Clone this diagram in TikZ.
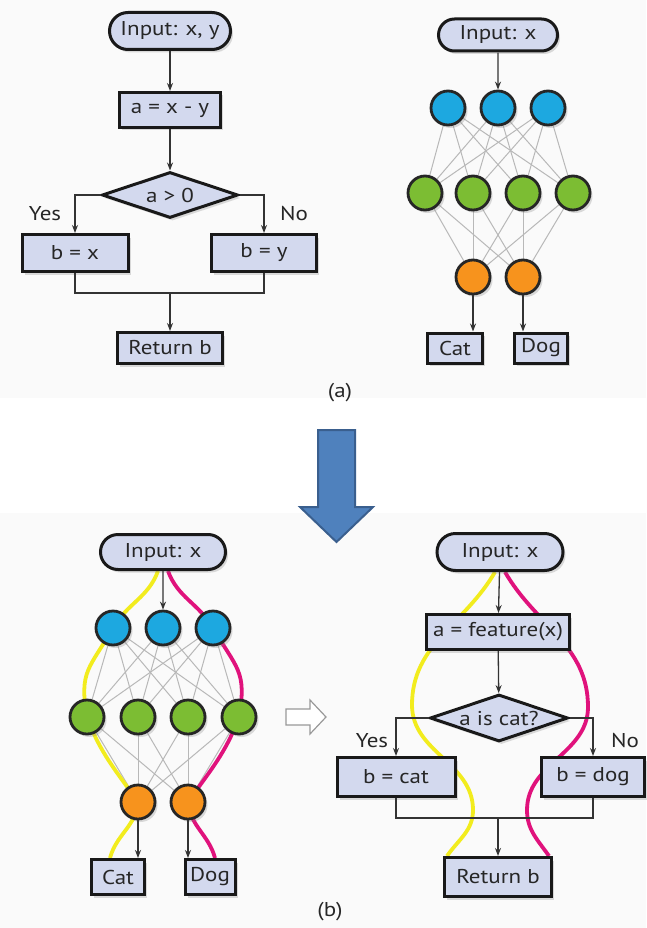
\documentclass[tikz,border=0pt]{standalone}
\usepackage{fontspec}
\setmainfont{PT Sans}[FakeStretch=1.15]
\usetikzlibrary{arrows.meta,positioning,shapes.geometric,shapes.misc,shadows,backgrounds}
\definecolor{bxfill}{HTML}{D3D9EE}
\definecolor{nnblue}{HTML}{1DA8E0}
\definecolor{nngreen}{HTML}{7CBD33}
\definecolor{nnorange}{HTML}{F7931D}
\definecolor{pathyel}{HTML}{F2EC1E}
\definecolor{pathmag}{HTML}{E0127C}
\definecolor{bigarr}{HTML}{4F81BD}
\definecolor{bigarrline}{HTML}{3A5F8E}

\begin{document}
\begin{tikzpicture}[x=1pt,y=-1pt,
  font=\fontsize{20}{22}\selectfont,text=black!85,
  shd/.style={drop shadow={shadow xshift=2.5pt,shadow yshift=-3pt,opacity=.28}},
  box/.style={draw=black!90,line width=3pt,fill=bxfill,inner sep=2pt,minimum height=35pt,shd},
  oval/.style={rounded rectangle,draw=black!90,line width=3pt,fill=bxfill,inner sep=2pt,
    minimum height=36pt,shd},
  dec/.style={diamond,aspect=3,draw=black!90,line width=3pt,fill=bxfill,inner sep=0pt,
    minimum height=46pt,shd},
  neu/.style={circle,draw=black!85,line width=2.8pt,minimum size=34pt,inner sep=0pt,shd},
  nblue/.style={neu,fill=nnblue},
  ngreen/.style={neu,fill=nngreen},
  norange/.style={neu,fill=nnorange},
  arr/.style={-{Stealth[length=8pt,width=6pt]},line width=1.3pt,draw=black!80},
  ln/.style={line width=1.3pt,draw=black!80},
  mesh/.style={draw=black!28,line width=1pt},
  yel/.style={draw=pathyel,line width=3.8pt},
  mag/.style={draw=pathmag,line width=3.8pt},
  lbl/.style={inner sep=1pt}]
  \useasboundingbox (0,0) rectangle (646,928);
  \begin{scope}[on background layer]
    \fill[black!2] (0,0) rectangle (646,398);
    \fill[black!2] (0,513) rectangle (646,928);
  \end{scope}

  % (a) left: the program
  \node[oval,minimum width=125pt,minimum height=37pt] (ain) at (170,31) {Input: x, y};
  \node[box,minimum width=101pt] (ax) at (170,110) {a = x - y};
  \node[dec,minimum width=136pt] (adec) at (170,195) {a > 0};
  \node[box,minimum width=106pt,minimum height=37pt] (abx) at (75,253) {b = x};
  \node[box,minimum width=105pt,minimum height=37pt] (aby) at (264,253) {b = y};
  \node[box,minimum width=105pt,minimum height=31pt] (aret) at (170,348) {Return b};
  \coordinate (amerge) at (170,293);
  \node[lbl] (ayes) at (45,214) {Yes};
  \node[lbl] (ano) at (294,214) {No};
  \draw[arr] (ain) -- (ax);
  \draw[arr] (ax) -- (adec);
  \draw[arr] (adec.west) -| (abx);
  \draw[arr] (adec.east) -| (aby);
  \draw[ln] (abx) |- (amerge) -| (aby);
  \draw[arr] (amerge) -- (aret);

  % (a) right: the network
  \node[oval,minimum width=123pt,minimum height=32pt] (tin) at (498,35) {Input: x};
  \foreach \i/\x in {1/448,2/498,3/548} \node[nblue] (tb\i) at (\x,108) {};
  \foreach \i/\x in {1/425,2/473,3/523,4/573} \node[ngreen] (tg\i) at (\x,193) {};
  \foreach \i/\x in {1/473,2/523} \node[norange] (to\i) at (\x,277) {};
  \node[box,minimum width=55pt,minimum height=30pt] (tcat) at (455,348) {Cat};
  \node[box,minimum width=53pt,minimum height=30pt] (tdog) at (541,348) {Dog};
  \begin{scope}[on background layer]
    \foreach \i in {1,2,3} \foreach \j in {1,...,4} \draw[mesh] (tb\i) -- (tg\j);
    \foreach \i in {1,...,4} \foreach \j in {1,2} \draw[mesh] (tg\i) -- (to\j);
  \end{scope}
  \draw[arr] (tin) -- (tb2);
  \draw[arr] (to1) -- (to1 |- tcat.north);
  \draw[arr] (to2) -- (to2 |- tdog.north);
  \node (capa) at (340,393) {(a)};

  % big arrow
  \draw[bigarrline,fill=bigarr,line width=2pt,line join=miter]
    (318,430) -- (355,430) -- (355,507) -- (373,507) -- (336.5,542) -- (300,507) -- (318,507) -- cycle;

  % (b) left: the network with two paths
  \node[oval,minimum width=129pt,minimum height=35pt] (bin) at (163,552) {Input: x};
  \foreach \i/\x in {1/113,2/163,3/213} \node[nblue] (bb\i) at (\x,628) {};
  \foreach \i/\x in {1/87,2/138,3/188,4/239} \node[ngreen] (bg\i) at (\x,717) {};
  \foreach \i/\x in {1/138,2/188} \node[norange] (bo\i) at (\x,802) {};
  \node[box,minimum width=53pt] (bcat) at (118,877) {Cat};
  \node[box,minimum width=50pt] (bdog) at (210,877) {Dog};
  \begin{scope}[on background layer]
    \foreach \i in {1,2,3} \foreach \j in {1,...,4} \draw[mesh] (bb\i) -- (bg\j);
    \foreach \i in {1,...,4} \foreach \j in {1,2} \draw[mesh] (bg\i) -- (bo\j);
    \draw[yel] ([xshift=-5pt]bin.south) to[out=250,in=60] (bb1.center)
      to[out=240,in=100,looseness=1.3] (bg1.center) to[out=-70,in=125] (bo1.center)
      to[out=-95,in=75] ([xshift=-8pt]bcat.north);
    \draw[mag] ([xshift=5pt]bin.south) to[out=-70,in=120] (bb3.center)
      to[out=-60,in=80,looseness=1.3] (bg4.center) to[out=-110,in=55] (bo2.center)
      to[out=-85,in=105] ([xshift=5pt]bdog.north);
  \end{scope}
  \draw[arr] (bin) -- (bb2);
  \draw[arr] (bo1) -- (bo1 |- bcat.north);
  \draw[arr] (bo2) -- (bo2 |- bdog.north);

  \draw[black!40,fill=white,line width=1.2pt,line join=miter]
    (286,709) -- (310,709) -- (310,700) -- (326,717) -- (310,734) -- (310,725) -- (286,725) -- cycle;

  % (b) right: the extracted program
  \node[oval,minimum width=130pt,minimum height=37pt] (cin) at (500,552) {Input: x};
  \node[box,minimum width=143pt] (cfeat) at (498,632) {a = feature(x)};
  \node[dec,minimum width=138pt,minimum height=47pt] (cdec) at (499,718) {a is cat?};
  \node[box,minimum width=118pt,minimum height=39pt] (ccat) at (396,777) {b = cat};
  \node[box,minimum width=103pt,minimum height=39pt] (cdog) at (593,777) {b = dog};
  \node[box,minimum width=107pt,minimum height=39pt] (cret) at (498,877) {Return b};
  \coordinate (cmerge) at (498,818);
  \node[lbl] (cyes) at (372,741) {Yes};
  \node[lbl] (cno) at (625,741) {No};
  \coordinate (cyl) at (412,705);
  \coordinate (cyr) at (473,810);
  \coordinate (cmr) at (588,707);
  \coordinate (cml) at (527,810);
  \begin{scope}[on background layer]
    \draw[yel] ([xshift=-5pt]cin.south) to[out=240,in=90] (cyl) to[out=270,in=90] (cyr)
      to[out=270,in=55] ([xshift=4pt]cret.north west);
    \draw[mag] ([xshift=5pt]cin.south) to[out=300,in=90] (cmr) to[out=270,in=90] (cml)
      to[out=270,in=125] ([xshift=-4pt]cret.north east);
  \end{scope}
  \draw[arr] (cin) -- (cfeat);
  \draw[arr] (cfeat) -- (cdec);
  \draw[arr] (cdec.west) -| (ccat);
  \draw[arr] (cdec.east) -| (cdog);
  \draw[ln] (ccat) |- (cmerge) -| (cdog);
  \draw[arr] (cmerge) -- (cret);
  \node (capb) at (330,912) {(b)};
\end{tikzpicture}
\end{document}
